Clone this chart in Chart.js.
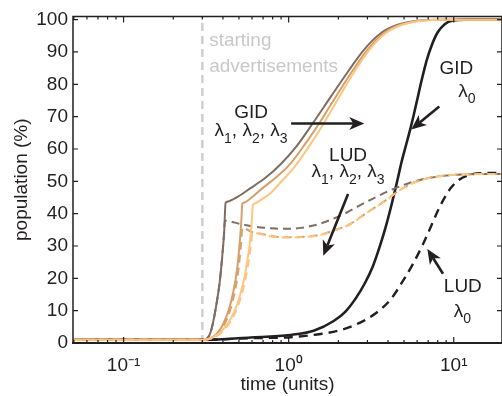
<!DOCTYPE html>
<html><head><meta charset="utf-8">
<script src="https://cdn.jsdelivr.net/npm/chart.js@4.4.0/dist/chart.umd.min.js"></script>
<style>html,body{margin:0;padding:0;background:#fff;}canvas{display:block;}</style>
</head><body>
<canvas id="c" width="502" height="396"></canvas>
<script>
// ---------- data (time in units, population in %) ----------
const gidL1T = [0.05, 0.1, 0.2, 0.3, 0.323, 0.337, 0.351, 0.366, 0.382, 0.395, 0.4065, 0.415, 0.424, 0.49, 0.588, 0.72, 0.894, 1.118, 1.398, 1.797, 2.279, 2.849, 3.611, 4.578, 5.886, 8.34, 20];
const gidL1V = [1, 1, 1, 1, 1.6, 3.4, 7.1, 12.3, 18.7, 26.1, 34.1, 43.3, 43.7, 45.2, 47.9, 51.0, 55.3, 60.9, 67.9, 76.1, 83.8, 90.6, 95.8, 98.4, 99.6, 100, 100];

const gidL2T = [0.05, 0.1, 0.2, 0.3, 0.3367, 0.3662, 0.398, 0.4329, 0.4642, 0.4875, 0.5047, 0.5169, 0.524, 0.535, 0.597, 0.6955, 0.834, 1.007, 1.241, 1.530, 1.927, 2.409, 2.99, 3.765, 4.739, 6.052, 8.58, 20];
const gidL2V = [1, 1, 1, 1, 1.5, 2.8, 5.5, 10.1, 16.3, 23.0, 30.7, 37.8, 43.0, 43.4, 45.0, 47.9, 51.1, 55.0, 61.1, 67.9, 76.1, 83.8, 90.6, 95.8, 98.4, 99.6, 100, 100];

const gidL3T = [0.05, 0.1, 0.2, 0.3, 0.3462, 0.3871, 0.4329, 0.4775, 0.5118, 0.5413, 0.5644, 0.5843, 0.5968, 0.6075, 0.62, 0.686, 0.778, 0.92, 1.080, 1.341, 1.630, 2.023, 2.494, 3.075, 3.872, 4.875, 6.222, 8.82, 20];
const gidL3V = [1, 1, 1, 1, 1.7, 3.4, 6.4, 10.7, 15.4, 20.6, 26.1, 31.6, 37.2, 42.7, 43.1, 44.4, 46.4, 50.4, 54.3, 61.1, 67.9, 76.1, 83.8, 90.6, 95.8, 98.4, 99.6, 100, 100];

const gidL0T = [0.05, 0.1, 0.2, 0.3, 0.588, 1.028, 1.418, 1.874, 2.216, 2.548, 2.888, 3.229, 3.560, 3.872, 4.210, 4.514, 4.841, 5.190, 5.566, 5.968, 6.399, 6.862, 7.357, 7.998, 8.822, 9.861, 11.82, 20];
const gidL0V = [1, 1, 1, 1, 1.7, 2.5, 3.8, 6.8, 9.8, 13.8, 18.4, 23.6, 29.8, 35.9, 43.0, 49.4, 56.2, 62.0, 67.9, 74.6, 81.4, 87.5, 92.1, 96.1, 98.6, 99.7, 100, 100];

const ludL1T = [0.05, 0.1, 0.2, 0.3, 0.323, 0.337, 0.351, 0.366, 0.382, 0.395, 0.4065, 0.411, 0.5118, 0.631, 0.778, 0.959, 1.182, 1.457, 1.797, 2.216, 2.731, 3.368, 4.152, 5.119, 6.310, 8.34, 11.03, 20];
const ludL1V = [1, 1, 1, 1, 1.6, 3.4, 7.1, 12.3, 18.7, 26.1, 34.1, 37.8, 36.8, 35.9, 35.5, 35.3, 35.6, 36.5, 38.1, 40.2, 42.7, 45.1, 47.3, 49.1, 50.5, 51.6, 52.1, 52.3];

const ludL2T = [0.05, 0.1, 0.2, 0.3, 0.3434, 0.3735, 0.406, 0.4416, 0.4735, 0.4973, 0.5148, 0.5254, 0.588, 0.7253, 0.9326, 1.182, 1.499, 1.874, 2.376, 2.970, 3.765, 4.642, 5.643, 7.254, 11.03, 20];
const ludL2V = [1, 1, 1, 1, 1.5, 2.8, 5.5, 10.1, 16.3, 23.0, 30.7, 35.7, 34.5, 33.5, 32.7, 32.8, 33.3, 34.8, 36.9, 40.3, 43.7, 47.1, 49.5, 51.2, 52.1, 52.3];

const ludL3T = [0.05, 0.1, 0.2, 0.3, 0.3531, 0.3948, 0.4416, 0.4871, 0.522, 0.5521, 0.5757, 0.596, 0.6026, 0.7253, 0.9326, 1.182, 1.499, 1.874, 2.376, 2.970, 3.765, 4.642, 5.643, 7.254, 11.03, 20];
const ludL3V = [1, 1, 1, 1, 1.7, 3.4, 6.4, 10.7, 15.4, 20.6, 26.1, 31.6, 34.2, 33.2, 32.6, 32.7, 33.2, 34.7, 36.8, 40.2, 43.6, 47.0, 49.4, 51.1, 52.1, 52.3];

const ludL0T = [0.05, 0.1, 0.2, 0.3, 0.588, 1.028, 1.563, 2.066, 2.731, 3.368, 4.152, 4.977, 5.723, 6.488, 7.254, 7.998, 8.70, 9.59, 10.72, 12.33, 14.57, 20];
const ludL0V = [1, 1, 1, 1, 1.5, 1.8, 2.8, 4.0, 6.4, 9.2, 13.5, 19.6, 24.9, 30.4, 35.9, 40.8, 44.5, 47.9, 50.4, 51.9, 52.5, 52.6];

const advertStartT = [0.3, 0.3];
const advertStartV = [0, 101];

const xTickValues = [0.1, 1, 10];
const xTickLabels = ['10\u207B\u00B9', '10\u2070', '10\u00B9'];
const yTickValues = [0, 10, 20, 30, 40, 50, 60, 70, 80, 90, 100];
const yTickLabels = ['0', '10', '20', '30', '40', '50', '60', '70', '80', '90', '100'];

const xTitle = 'time (units)';
const yTitle = 'population (%)';
const noteStart = ['starting', 'advertisements'];
const noteGID = 'GID';
const noteLUD = 'LUD';

// ---------- styles ----------
const FONT = "'Liberation Sans', Arial, Helvetica, sans-serif";
const INK = '#231f20';
const C1 = '#7d6d62';
const C2 = '#d69f69';
const C3 = '#fdc680';
const CGREY = '#cfcfcf';

function series(T, V) { return T.map((t, i) => ({x: t, y: V[i]})); }

function line(data, color, width, dash) {
  return {data, borderColor: color, borderWidth: width, borderDash: dash || [],
    pointRadius: 0, fill: false, cubicInterpolationMode: 'monotone', borderCapStyle: 'butt'};
}

const datasets = [
  line(series(gidL3T, gidL3V), C3, 2),
  line(series(ludL3T, ludL3V), C3, 2, [8, 5]),
  line(series(gidL2T, gidL2V), C2, 2),
  line(series(ludL2T, ludL2V), C2, 2, [8, 5]),
  line(series(gidL1T, gidL1V), C1, 2),
  line(series(ludL1T, ludL1V), C1, 2, [8, 5]),
  line(series(gidL0T, gidL0V), INK, 2.6),
  line(series(ludL0T, ludL0V), INK, 2.4, [9, 6]),
  Object.assign(line(series(advertStartT, advertStartV), CGREY, 2.5, [8, 5]), {cubicInterpolationMode: 'default', tension: 0})
];

// ---------- helpers for annotations ----------
function textWidthLam(ctx, items, main, sub) {
  let w = 0;
  items.forEach((it, i) => {
    ctx.font = main; w += ctx.measureText('\u03BB').width;
    ctx.font = sub; w += ctx.measureText(it).width;
    if (i < items.length - 1) { ctx.font = main; w += ctx.measureText(', ').width; }
  });
  return w;
}
function drawLam(ctx, items, cx, by, main, sub, subDy) {
  const w = textWidthLam(ctx, items, main, sub);
  let x = cx - w / 2;
  ctx.textAlign = 'left'; ctx.textBaseline = 'alphabetic';
  items.forEach((it, i) => {
    ctx.font = main; ctx.fillText('\u03BB', x, by); x += ctx.measureText('\u03BB').width;
    ctx.font = sub; ctx.fillText(it, x, by + subDy); x += ctx.measureText(it).width;
    if (i < items.length - 1) { ctx.font = main; ctx.fillText(',', x, by); x += ctx.measureText(', ').width; }
  });
}
function arrow(ctx, x1, y1, x2, y2) {
  const ang = Math.atan2(y2 - y1, x2 - x1);
  const L = 15, H = 6.5, N = 11;
  const bx = x2 - N * Math.cos(ang), by = y2 - N * Math.sin(ang);
  ctx.beginPath(); ctx.moveTo(x1, y1); ctx.lineTo(bx, by); ctx.lineWidth = 2.6; ctx.strokeStyle = INK; ctx.stroke();
  const px = -Math.sin(ang), py = Math.cos(ang);
  const cx = x2 - L * Math.cos(ang), cy = y2 - L * Math.sin(ang);
  ctx.beginPath();
  ctx.moveTo(x2, y2);
  ctx.lineTo(cx + H * px, cy + H * py);
  ctx.lineTo(bx, by);
  ctx.lineTo(cx - H * px, cy - H * py);
  ctx.closePath(); ctx.fillStyle = INK; ctx.fill();
}

const decor = {
  id: 'decor',
  afterDatasetsDraw(chart) {
    const {ctx, chartArea: a, scales: {x, y}} = chart;
    const X = t => x.getPixelForValue(t), Y = v => y.getPixelForValue(v);
    ctx.save();
    // frame
    ctx.strokeStyle = INK; ctx.lineWidth = 1.5;
    ctx.beginPath();
    ctx.moveTo(a.left, a.bottom); ctx.lineTo(a.left, a.top); ctx.lineTo(a.right, a.top); ctx.lineTo(a.right, a.bottom);
    ctx.stroke();
    ctx.lineWidth = 2.2;
    ctx.beginPath(); ctx.moveTo(a.left - 1, a.bottom); ctx.lineTo(a.right, a.bottom); ctx.stroke();
    // ticks
    ctx.lineWidth = 1.2;
    ctx.beginPath();
    yTickValues.forEach(v => {
      const p = Y(v);
      ctx.moveTo(a.left, p); ctx.lineTo(a.left + 5, p);
      ctx.moveTo(a.right, p); ctx.lineTo(a.right - 5, p);
    });
    xTickValues.forEach(t => {
      const p = X(t);
      ctx.moveTo(p, a.bottom); ctx.lineTo(p, a.bottom - 6);
      ctx.moveTo(p, a.top); ctx.lineTo(p, a.top + 6);
    });
    [0.01, 0.1, 1, 10].forEach(d => {
      for (let k = 2; k <= 9; k++) {
        const t = d * k;
        if (t < x.min || t > x.max) continue;
        const p = X(t);
        ctx.moveTo(p, a.bottom); ctx.lineTo(p, a.bottom - 3);
        ctx.moveTo(p, a.top); ctx.lineTo(p, a.top + 3);
      }
    });
    ctx.stroke();

    const MAIN = "19px " + FONT, SUB = "14px " + FONT;
    // starting advertisements
    ctx.fillStyle = '#c9c9c9'; ctx.font = MAIN; ctx.textAlign = 'left'; ctx.textBaseline = 'alphabetic';
    ctx.fillText(noteStart[0], X(0.33), Y(91.8));
    ctx.fillText(noteStart[1], X(0.33), Y(83.8));

    ctx.fillStyle = INK;
    // GID lambda1..3
    ctx.textAlign = 'center'; ctx.font = MAIN;
    ctx.fillText(noteGID, X(0.592), Y(69.7));
    drawLam(ctx, ['1', '2', '3'], X(0.592), Y(63.9), MAIN, SUB, 7);
    arrow(ctx, X(1.035), Y(67.9), X(2.87), Y(67.9));
    // LUD lambda1..3
    ctx.textAlign = 'center'; ctx.font = MAIN; ctx.fillStyle = INK;
    ctx.fillText(noteLUD, X(2.29), Y(56.2));
    drawLam(ctx, ['1', '2', '3'], X(2.29), Y(51.3), MAIN, SUB, 7);
    arrow(ctx, X(2.29), Y(46.1), X(1.62), Y(27.0));
    // GID lambda0
    ctx.textAlign = 'center'; ctx.font = MAIN; ctx.fillStyle = INK;
    ctx.fillText(noteGID, X(10.36), Y(83.2));
    drawLam(ctx, ['0'], X(12.0), Y(76.1), MAIN, SUB, 6);
    arrow(ctx, X(8.17), Y(73.1), X(5.53), Y(66.0));
    // LUD lambda0
    ctx.textAlign = 'center'; ctx.font = MAIN; ctx.fillStyle = INK;
    ctx.fillText(noteLUD, X(11.35), Y(15.7));
    drawLam(ctx, ['0'], X(11.3), Y(8.0), MAIN, SUB, 6);
    arrow(ctx, X(8.61), Y(21.4), X(6.92), Y(29.1));
    ctx.restore();
  }
};

Chart.defaults.font.family = FONT;
Chart.defaults.color = INK;

new Chart(document.getElementById('c'), {
  type: 'line',
  data: {datasets},
  options: {
    responsive: false, animation: false, devicePixelRatio: 1,
    layout: {padding: {top: 14, left: 0, right: 0, bottom: 0}},
    plugins: {legend: {display: false}, tooltip: {enabled: false}},
    scales: {
      x: {
        type: 'logarithmic', min: 0.0494, max: 19.6,
        afterBuildTicks: s => { s.ticks = xTickValues.map(v => ({value: v})); },
        ticks: {callback: (v, i) => xTickLabels[i], autoSkip: false, maxRotation: 0, padding: 11, font: {size: 19}, color: INK},
        grid: {display: false, drawTicks: false}, border: {display: false},
        title: {display: true, text: xTitle, font: {size: 19}, color: INK, padding: {top: 0, bottom: 0}},
        afterFit: s => { s.height = 53; }
      },
      y: {
        type: 'linear', min: 0, max: 101,
        afterBuildTicks: s => { s.ticks = yTickValues.map(v => ({value: v})); },
        ticks: {callback: (v, i) => yTickLabels[i], padding: 5, font: {size: 19}, color: INK},
        grid: {display: false, drawTicks: false}, border: {display: false},
        title: {display: true, text: yTitle, font: {size: 19}, color: INK, padding: {top: 10, bottom: 0}},
        afterFit: s => { s.width = 73; }
      }
    }
  },
  plugins: [decor]
});
</script>
</body></html>
